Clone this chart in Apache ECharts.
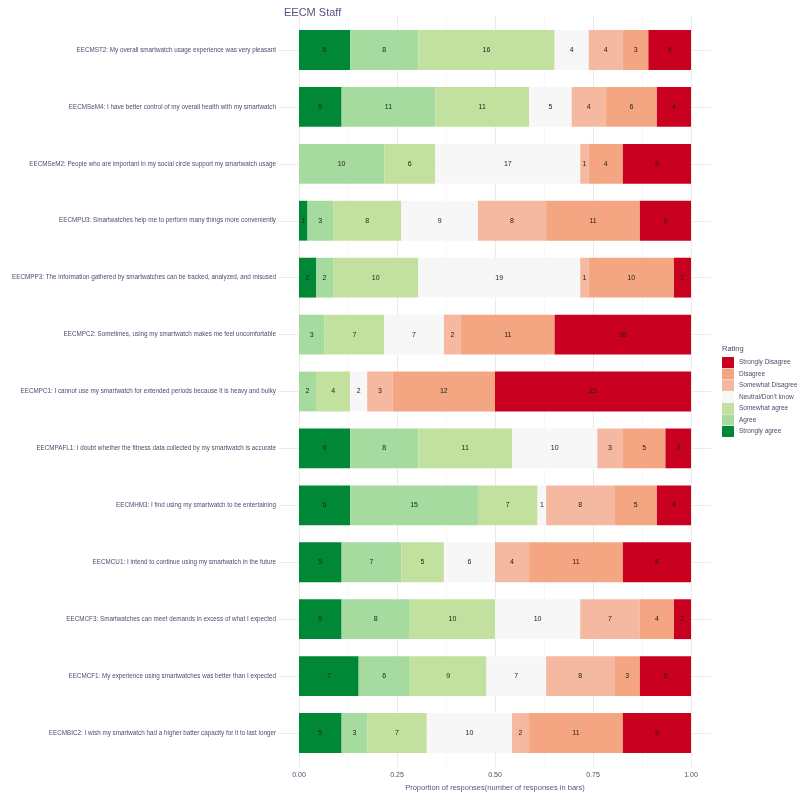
<!DOCTYPE html>
<html>
<head>
<meta charset="utf-8">
<script src="https://cdn.jsdelivr.net/npm/echarts@6/dist/echarts.min.js"></script>
<style>html,body{margin:0;padding:0;background:#fff}#c{width:800px;height:800px}</style>
</head>
<body>
<div id="c"></div>
<script>
// Questions, top to bottom
const questions = [
  "EECMST2: My overall smartwatch usage experience was very pleasant",
  "EECMSeM4: I have better control of my overall health with my smartwatch",
  "EECMSeM2: People who are important in my social circle support my smartwatch usage",
  "EECMPU3: Smartwatches help me to perform many things more conveniently",
  "EECMPP3: The information gathered by smartwatches can be tracked, analyzed, and misused",
  "EECMPC2: Sometimes, using my smartwatch makes me feel uncomfortable",
  "EECMPC1: I cannot use my smartwatch for extended periods because it is heavy and bulky",
  "EECMPAFL1: I doubt whether the fitness data collected by my smartwatch is accurate",
  "EECMHM3: I find using my smartwatch to be entertaining",
  "EECMCU1: I intend to continue using my smartwatch in the future",
  "EECMCF3: Smartwatches can meet demands in excess of what I expected",
  "EECMCF1: My experience using smartwatches was better than I expected",
  "EECMBIC2: I wish my smartwatch had a higher batter capacity for it to last longer"
];
// Ratings, left to right in the bars
const ratings = ["Strongly agree","Agree","Somewhat agree","Neutral/Don't know","Somewhat Disagree","Disagree","Strongly Disagree"];
// Counts per rating (same order as questions)
const stronglyAgree    = [6,5,0,1,2,0,0,6,6,5,5,7,5];
const agree            = [8,11,10,3,2,3,2,8,15,7,8,6,3];
const somewhatAgree    = [16,11,6,8,10,7,4,11,7,5,10,9,7];
const neutral          = [4,5,17,9,19,7,2,10,1,6,10,7,10];
const somewhatDisagree = [4,4,1,8,1,2,3,3,8,4,7,8,2];
const disagree         = [3,6,4,11,10,11,12,5,5,11,4,3,11];
const stronglyDisagree = [5,4,8,6,2,16,23,3,4,8,2,6,8];
const xTicks = ["0.00","0.25","0.50","0.75","1.00"];

const counts = [stronglyAgree, agree, somewhatAgree, neutral, somewhatDisagree, disagree, stronglyDisagree];
const colors = ["#008837","#a6dba0","#c2e19f","#f7f7f7","#f4b9a0","#f4a582","#ca0020"];
const totals = questions.map((q,i)=>counts.reduce((s,a)=>s+a[i],0));

const chart = echarts.init(document.getElementById('c'), null, {renderer:'canvas'});
const txt = '#4d4d6e';
const ff = 'Liberation Sans, Arial, sans-serif';

const series = ratings.map((r,k)=>({
  name: r,
  type: 'bar',
  stack: 'all',
  xAxisIndex: 2, yAxisIndex: 2,
  barWidth: '70%',
  itemStyle: {color: colors[k]},
  label: {
    show: true, position: 'inside', fontSize: 7, color: '#222', fontFamily: ff,
    formatter: p => counts[k][p.dataIndex] > 0 ? String(counts[k][p.dataIndex]) : ''
  },
  data: counts[k].map((v,i)=> v/totals[i])
}));

chart.setOption({
  animation: false,
  backgroundColor: '#fff',
  title: {
    text: 'EECM Staff', left: 279, top: 2,
    textStyle: {fontSize: 11, fontWeight: 'normal', color: '#55557f', fontFamily: ff}
  },
  legend: {
    data: ratings.slice().reverse(),
    orient: 'vertical', left: 722, top: 357, padding: 0,
    icon: 'rect',
    itemWidth: 12, itemHeight: 11, itemGap: 0.5,
    textStyle: {fontSize: 6.5, color: txt, fontFamily: ff},
    selectedMode: false
  },
  graphic: [{
    type: 'text', left: 722, top: 345,
    style: {text: 'Rating', fontSize: 7.5, fill: txt, fontFamily: ff}
  }],
  grid: [
    {left: 299, width: 392, top: 16, bottom: 33},
    {left: 279, width: 432, top: 50, height: 683},
    {left: 299, width: 392, top: 21.5, height: 740}
  ],
  xAxis: [
    {gridIndex: 0, type: 'value', min: 0, max: 1, interval: 0.25,
     axisLine: {show: false}, axisTick: {show: false},
     axisLabel: {fontSize: 7, color: txt, margin: 5, fontFamily: ff,
       formatter: v => xTicks[Math.round(v/0.25)]},
     splitLine: {show: true, lineStyle: {color: '#ebebeb', width: 1}},
     minorTick: {show: false, splitNumber: 2},
     minorSplitLine: {show: true, lineStyle: {color: '#f4f4f4', width: 0.6}},
     name: 'Proportion of responses(number of responses in bars)',
     nameLocation: 'middle', nameGap: 16,
     nameTextStyle: {fontSize: 7.5, color: '#55557f', fontFamily: ff}
    },
    {gridIndex: 1, type: 'value', min: 0, max: 1, show: false},
    {gridIndex: 2, type: 'value', min: 0, max: 1, show: false}
  ],
  yAxis: [
    {gridIndex: 0, type: 'value', show: false},
    {gridIndex: 1, type: 'value', min: 0, max: 12, interval: 1, inverse: true,
     axisLine: {show: false}, axisTick: {show: false}, axisLabel: {show: false},
     splitLine: {show: true, lineStyle: {color: '#ebebeb', width: 1}}},
    {gridIndex: 2, type: 'category', data: questions, inverse: true,
     axisLine: {show: false}, axisTick: {show: false}, splitLine: {show: false},
     axisLabel: {fontSize: 6.3, color: txt, margin: 23, fontFamily: ff}}
  ],
  series: series
});
</script>
</body>
</html>
